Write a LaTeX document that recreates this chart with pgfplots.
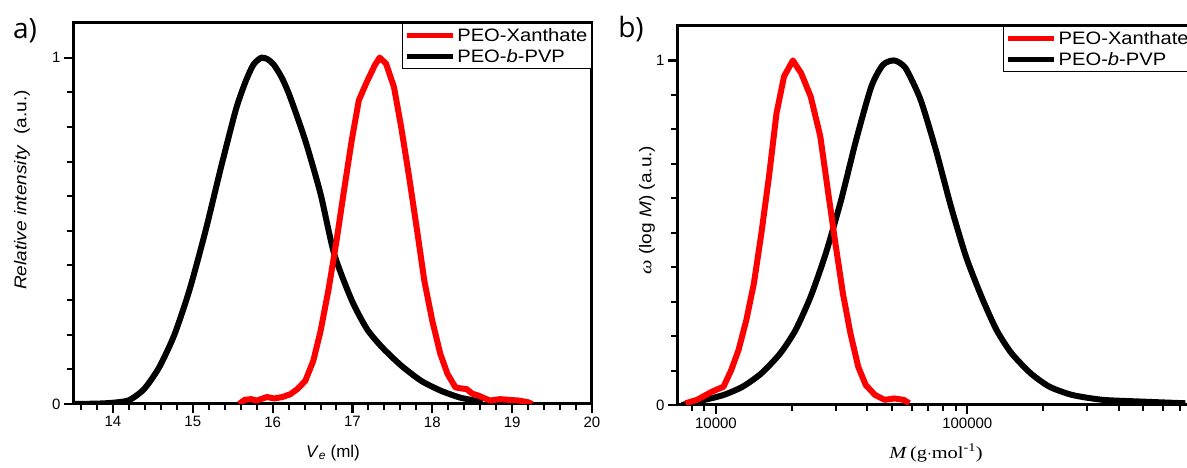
\documentclass[border=0pt]{standalone}
\usepackage{pgfplots}
\pgfplotsset{compat=1.18}
\usepackage{fontspec}
\setmainfont{Liberation Sans}
\newfontfamily\legfont[FakeStretch=1.12]{Liberation Sans}
\newfontfamily\serfont[FakeStretch=1.2]{Liberation Serif}
\newfontfamily\panfont{Open Sans}

\pgfplotsset{
 mystyle/.style={
  scale only axis,
  axis line style={line width=3pt},
  major tick style={line width=2.2pt, black},
  minor tick style={line width=2pt, black},
  tick align=outside,
  major tick length=9pt, minor tick length=6pt,
  xtick pos=left, ytick pos=left,
  ymin=0, ymax=1.1, ytick={0,1},
  minor ytick={0.1,0.2,0.3,0.4,0.5,0.6,0.7,0.8,0.9},
  ticklabel style={font=\fontsize{15}{15}\selectfont},
  /pgf/number format/assume math mode=true,
  legend style={draw=black, line width=1.3pt, font=\legfont\fontsize{18}{22}\selectfont,
    inner xsep=2pt, inner ysep=3pt, row sep=2pt, cells={anchor=west}},
  legend image code/.code={\draw[#1] (0pt,0pt) -- (46pt,0pt);},
 }}

\pgfplotstableread{
x y
13.52 0
13.90 0.002
14.19 0.01
14.39 0.043
14.58 0.106
14.77 0.20
14.96 0.33
15.16 0.50
15.35 0.68
15.54 0.85
15.66 0.93
15.76 0.98
15.86 1.0
15.94 0.995
16.02 0.978
16.12 0.94
16.22 0.886
16.41 0.76
16.60 0.607
16.77 0.434
16.99 0.30
17.18 0.217
17.37 0.164
17.61 0.111
17.86 0.067
18.10 0.039
18.34 0.019
18.53 0.01
18.63 0.005
}\blackA

\pgfplotstableread{
x y
15.58 0
15.65 0.012
15.73 0.014
15.80 0.010
15.93 0.020
16.02 0.016
16.12 0.020
16.22 0.028
16.31 0.043
16.41 0.067
16.51 0.125
16.60 0.21
16.70 0.33
16.80 0.47
16.89 0.61
16.99 0.76
17.08 0.877
17.18 0.93
17.28 0.978
17.34 1.0
17.42 0.983
17.52 0.915
17.61 0.80
17.71 0.655
17.81 0.50
17.90 0.356
18.00 0.24
18.10 0.145
18.19 0.087
18.29 0.048
18.36 0.045
18.43 0.043
18.50 0.030
18.58 0.024
18.72 0.010
18.85 0.014
18.96 0.012
19.08 0.010
19.20 0.005
19.25 0
}\redA

\pgfplotstableread{
x y
7568 0.005
8414 0.015
9661 0.039
10715 0.053
11482 0.10
12303 0.16
13213 0.247
14158 0.353
15171 0.50
16255 0.663
17418 0.847
18664 0.954
20230 1.0
21827 0.963
23823 0.895
26002 0.78
27861 0.624
29854 0.47
31989 0.324
34277 0.208
36813 0.111
39446 0.058
42954 0.029
46881 0.015
51168 0.019
55847 0.015
58749 0.005
}\redB

\pgfplotstableread{
x y
7311 0
9016 0.015
10715 0.029
12764 0.053
15171 0.092
18030 0.15
20750 0.218
23823 0.315
27353 0.44
31477 0.595
36141 0.77
41495 0.924
46132 0.987
51168 1.0
56754 0.978
65163 0.886
74989 0.74
86099 0.576
98855 0.43
113763 0.315
130617 0.218
149968 0.15
178649 0.092
212324 0.053
261818 0.029
345144 0.015
488652 0.01
736207 0.005
}\blackB

\begin{document}
\begin{tikzpicture}
\useasboundingbox (0pt,0pt) rectangle (1187pt,468pt);
\clip (0pt,0pt) rectangle (1187pt,468pt);

% panel a
\begin{axis}[mystyle,
  at={(73pt,64pt)}, anchor=south west,
  width=519pt, height=381pt,
  xmin=13.5, xmax=20,
  xtick={14,15,16,17,18,19,20},
  minor xtick={13.6,13.8,14.2,14.4,14.6,14.8,15.2,15.4,15.6,15.8,16.2,16.4,16.6,16.8,17.2,17.4,17.6,17.8,18.2,18.4,18.6,18.8,19.2,19.4,19.6,19.8},
  legend style={at={(1,1)}, anchor=north east},
]
\addlegendimage{red, line width=5pt}
\addlegendentry{PEO-Xanthate}
\addlegendimage{black, line width=5pt}
\addlegendentry{PEO-\textit{b}-PVP}
\addplot[black, line width=6pt, line join=round, smooth, tension=0.4, forget plot] table {\blackA};
\addplot[red, line width=6pt, line join=round, forget plot] table {\redA};
\end{axis}

% panel b
\begin{axis}[mystyle,
  at={(677pt,63pt)}, anchor=south west,
  width=520pt, height=379pt,
  xmode=log, xmin=7000, xmax=820000,
  xtick={10000,100000}, xticklabels={10000,100000},
  minor xtick={8000,9000,20000,30000,40000,50000,60000,70000,80000,90000,200000,300000,400000,500000,600000,700000,800000},
  legend style={at={(0.627,1)}, anchor=north west},
]
\addlegendimage{red, line width=5pt}
\addlegendentry{PEO-Xanthate}
\addlegendimage{black, line width=5pt}
\addlegendentry{PEO-\textit{b}-PVP}
\addplot[black, line width=6pt, line join=round, smooth, tension=0.4, forget plot] table {\blackB};
\addplot[red, line width=6pt, line join=round, forget plot] table {\redB};
\end{axis}

% labels
\node[font=\panfont\fontsize{28}{28}\selectfont] at (25pt,437pt) {a)};
\node[font=\panfont\fontsize{28}{28}\selectfont] at (631pt,439pt) {b)};
\node[rotate=90, font=\legfont\fontsize{17}{17}\selectfont] at (22pt,278pt) {\textit{Relative intensity}\ \ (a.u.)};
\node[rotate=90, font=\legfont\fontsize{17}{17}\selectfont] at (647pt,258pt) {{\serfont\itshape ω}\ (log \textit{M}) (a.u.)};
\node[font=\fontsize{17}{17}\selectfont] at (333pt,15pt) {\textit{V}\textsubscript{\textit{e}} (ml)};
\node[font=\serfont\fontsize{17}{17}\selectfont] at (936pt,15pt) {\textit{M}\,(g$\cdot$mol\textsuperscript{-1})};
\end{tikzpicture}
\end{document}
